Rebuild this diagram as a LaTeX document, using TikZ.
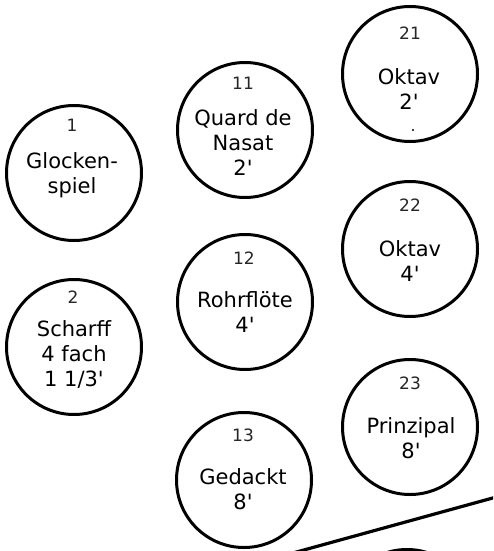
\documentclass[tikz,border=0pt]{standalone}
\usepackage{fontspec}
\newfontfamily\stopfont{DejaVu Sans}
\usetikzlibrary{positioning}

\begin{document}
\begin{tikzpicture}
        [
            x=1pt, y=-1pt,
            knob/.style={circle, draw, line width=3pt, minimum size=135pt, inner sep=0pt},
            nr/.style={font=\stopfont\fontsize{17}{20}\selectfont, inner sep=0pt, text=black!85},
            stop/.style={font=\stopfont\fontsize{21}{25}\selectfont, align=center, inner sep=0pt},
        ]
            \useasboundingbox (0,0) rectangle (493,551);
            \clip (0,0) rectangle (493,551);

            % left column
            \node[knob] (K1) at (74, 173) {};
            \node[nr] (N1) at (72, 125) {1};
            \node[stop] (S1) at (72, 175) {Glocken-\\spiel};

            \node[knob] (K2) at (74, 347) {};
            \node[nr] (N2) at (73, 297) {2};
            \node[stop] (S2) at (74, 354) {Scharff\\4 fach\\1 1/3'};

            % middle column
            \node[knob] (K11) at (245, 130) {};
            \node[nr] (N11) at (243, 83) {11};
            \node[stop] (S11) at (243, 143) {Quard de\\Nasat\\2'};

            \node[knob] (K12) at (245, 302) {};
            \node[nr] (N12) at (244, 258) {12};
            \node[stop] (S12) at (245, 312) {Rohrflöte\\4'};

            \node[knob] (K13) at (244, 480) {};
            \node[nr] (N13) at (243, 435) {13};
            \node[stop] (S13) at (243, 489) {Gedackt\\8'};

            % right column
            \node[knob] (K21) at (410, 74) {};
            \node[nr] (N21) at (410, 33) {21};
            \node[stop] (S21) at (409, 89) {Oktav\\2'};
            \fill (413, 130) circle (1.2pt);

            \node[knob] (K22) at (410, 249) {};
            \node[nr] (N22) at (410, 205) {22};
            \node[stop] (S22) at (410, 261) {Oktav\\4'};

            \node[knob] (K23) at (410, 427) {};
            \node[nr] (N23) at (410, 383) {23};
            \node[stop] (S23) at (411, 438) {Prinzipal\\8'};

            % next section below the divider
            \node[knob] (K31) at (407, 617) {};
            \coordinate (D1) at (282, 556);
            \coordinate (D2) at (500, 496);
            \draw[line width=3.2pt] (D1) -- (D2);
        \end{tikzpicture}
\end{document}
